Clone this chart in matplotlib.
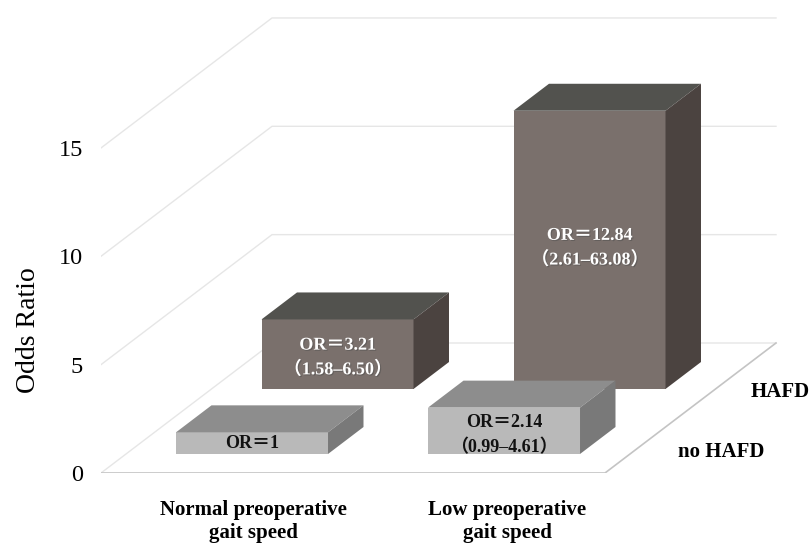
import matplotlib
matplotlib.use('Agg')
import matplotlib.pyplot as plt
import matplotlib.patheffects as pe

categories = ['Normal preoperative\ngait speed', 'Low preoperative\ngait speed']
series = ['no HAFD', 'HAFD']
no_hafd_or = [1, 2.14]
hafd_or = [3.21, 12.84]
no_hafd_ci = ['', '（0.99–4.61）']
hafd_ci = ['（1.58–6.50）', '（2.61–63.08）']
y_ticks = [0, 5, 10, 15]

# pixel layout of the picture
W, H = 810, 545
X0, Y0 = 101, 473      # front left corner of the floor
CAT_PX = 252           # floor width of one category
OR_PX = 21.67          # pixels per odds ratio unit

# oblique projection, one depth row shifts right and up
DX = 85.5 / CAT_PX
DY = 65 / OR_PX
BAR_W = 152 / CAT_PX
BAR_D = 0.415
FONTS = ['Liberation Serif', 'Noto Sans CJK JP']

LIGHT = ('#B9B9B9', '#8D8D8D', '#797979')
DARK = ('#7A706C', '#52524E', '#4B4340')

# label nudges off the middle of the front face, in odds ratio units
NO_HAFD_NUDGE = [0, -0.2]
HAFD_NUDGE = [-0.15, 0.1]


def pt(x, depth, h):
    return x + depth * DX, h + depth * DY


def draw_bar(ax, cat, row, value, colors, zorder):
    x0 = cat + (1 - BAR_W) / 2
    x1 = x0 + BAR_W
    d0 = row + (1 - BAR_D) / 2
    d1 = d0 + BAR_D
    front = [pt(x0, d0, 0), pt(x1, d0, 0), pt(x1, d0, value), pt(x0, d0, value)]
    top = [pt(x0, d0, value), pt(x1, d0, value), pt(x1, d1, value), pt(x0, d1, value)]
    side = [pt(x1, d0, 0), pt(x1, d1, 0), pt(x1, d1, value), pt(x1, d0, value)]
    for poly, c in zip((front, top, side), colors):
        ax.fill(*zip(*poly), color=c, lw=0, zorder=zorder, clip_on=False)
    return pt((x0 + x1) / 2, d0, value / 2)


fig = plt.figure(figsize=(W / 100, H / 100), dpi=100)
ax = fig.add_axes([X0 / W, (H - Y0) / H, (W - X0) / W, Y0 / H])
ax.set_xlim(0, (W - X0) / CAT_PX)
ax.set_ylim(0, Y0 / OR_PX)

# walls
for t in y_ticks[1:]:
    ax.plot(*zip(pt(0, 0, t), pt(0, 2, t), pt(2, 2, t)), color='#E6E6E6', lw=1, zorder=1)
# floor
ax.plot(*zip(pt(0, 0, 0), pt(0, 2, 0), pt(2, 2, 0)), color='#E6E6E6', lw=1, zorder=1)
ax.plot(*zip(pt(0, 0, 0), pt(2, 0, 0), pt(2, 2, 0)), color='#C4C4C4', lw=1.2, zorder=2)

# back row first so the front row hides it
for cat, v in enumerate(hafd_or):
    cx, cy = draw_bar(ax, cat, 1, v, DARK, 3 + cat)
    ax.text(cx, cy + HAFD_NUDGE[cat], f'OR＝{v}\n{hafd_ci[cat]}', color='white', ha='center', va='center',
            family=FONTS, weight='bold', fontsize=13, linespacing=1.55, zorder=10,
            path_effects=[pe.SimplePatchShadow(offset=(0.8, -0.8), alpha=0.5), pe.Normal()])

for cat, v in enumerate(no_hafd_or):
    cx, cy = draw_bar(ax, cat, 0, v, LIGHT, 6 + cat)
    label = f'OR＝{v}' + (f'\n{no_hafd_ci[cat]}' if no_hafd_ci[cat] else '')
    ax.text(cx, cy + NO_HAFD_NUDGE[cat], label, color='#111111', ha='center', va='center',
            family=FONTS, weight='bold', fontsize=13, linespacing=1.55, zorder=10)

ax.set_yticks(y_ticks)
ax.set_yticklabels([str(t) for t in y_ticks], family='Liberation Serif', fontsize=17.5)
ax.set_xticks([0.605, 1.612])
ax.set_xticklabels(categories, family='Liberation Serif', weight='bold', fontsize=15, linespacing=1.2)
ax.tick_params(axis='y', length=0, pad=13)
ax.tick_params(axis='x', length=0, pad=19.5)
ax.set_ylabel('Odds Ratio', family='Liberation Serif', fontsize=20)
ax.yaxis.set_label_coords(-60 / (W - X0), (Y0 - 330) / Y0)

ax.text(2.694, 3.75, series[1], family='Liberation Serif', weight='bold', fontsize=15, ha='center', va='center')
ax.text(2.46, 0.95, series[0], family='Liberation Serif', weight='bold', fontsize=15, ha='center', va='center')

for s in ax.spines.values():
    s.set_visible(False)
ax.patch.set_visible(False)

fig.savefig('out.png', dpi=100)
plt.close(fig)
